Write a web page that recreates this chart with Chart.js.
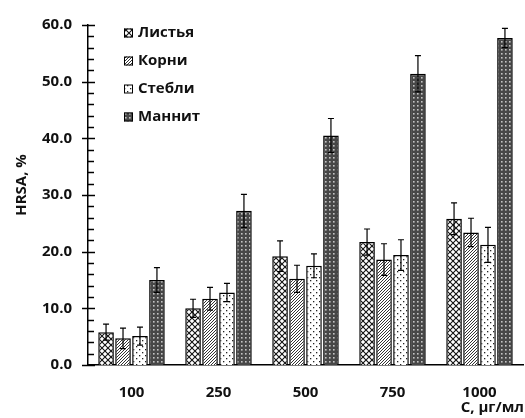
<!DOCTYPE html>
<html>
<head>
<meta charset="utf-8">
<script src="https://cdn.jsdelivr.net/npm/chart.js@4"></script>
<style>
  body { margin: 0; background: #fff; }
  #wrap { width: 525px; height: 418px; }
</style>
</head>
<body>
<div id="wrap"><canvas id="hrsacanvas" width="525" height="418"></canvas></div>
<script>
// концентрации
let concLabels = ["100", "250", "500", "750", "1000"];
let seriesNames = ["Листья", "Корни", "Стебли", "Маннит"];

// HRSA, %
let listyaVals = [5.8, 10.0, 19.2, 21.7, 25.8];
let korniVals = [4.7, 11.7, 15.2, 18.6, 23.4];
let stebliVals = [5.1, 12.8, 17.5, 19.4, 21.2];
let mannitVals = [15.0, 27.2, 40.5, 51.4, 57.7];

// погрешности
let listyaErr = [1.4, 1.6, 2.7, 2.3, 2.8];
let korniErr = [1.8, 2.0, 2.4, 2.8, 2.5];
let stebliErr = [1.6, 1.6, 2.1, 2.7, 3.1];
let mannitErr = [2.2, 2.9, 3.0, 3.2, 1.7];

let yTicks = [0, 10, 20, 30, 40, 50, 60];

function makePattern(kind) {
    let c = document.createElement('canvas');
    let s = kind === 'lattice' ? 6 : (kind === 'hatch' ? 3 : (kind === 'dots' ? 6 : 4));
    c.width = s; c.height = s;
    let g = c.getContext('2d');
    if (kind === 'lattice') {
        g.fillStyle = '#fff'; g.fillRect(0, 0, s, s);
        g.strokeStyle = '#111'; g.lineWidth = 1.1;
        g.beginPath();
        g.moveTo(0, 0); g.lineTo(s, s);
        g.moveTo(s, 0); g.lineTo(0, s);
        g.stroke();
    } else if (kind === 'hatch') {
        g.fillStyle = '#fff'; g.fillRect(0, 0, s, s);
        g.strokeStyle = '#333'; g.lineWidth = 1;
        g.beginPath();
        g.moveTo(-1, s + 1); g.lineTo(s + 1, -1);
        g.moveTo(-1, 1); g.lineTo(1, -1);
        g.moveTo(s - 1, s + 1); g.lineTo(s + 1, s - 1);
        g.stroke();
    } else if (kind === 'dots') {
        g.fillStyle = '#fff'; g.fillRect(0, 0, s, s);
        g.fillStyle = '#222';
        g.fillRect(1, 1, 1.3, 1.3);
        g.fillRect(4, 4, 1.3, 1.3);
    } else {
        g.fillStyle = '#474747'; g.fillRect(0, 0, s, s);
        g.fillStyle = '#c4c4c4';
        g.fillRect(1, 1, 1.6, 1.6);
    }
    let ctx = document.createElement('canvas').getContext('2d');
    return ctx.createPattern(c, 'repeat');
}

let fills = [makePattern('lattice'), makePattern('hatch'), makePattern('dots'), makePattern('grid')];
let allVals = [listyaVals, korniVals, stebliVals, mannitVals];
let allErr = [listyaErr, korniErr, stebliErr, mannitErr];

let fontFam = '"Open Sans", "DejaVu Sans", sans-serif';

// засечки, погрешности, легенда, подписи осей
let decorPlugin = {
    id: 'decor',
    afterDatasetsDraw(chart) {
        let ctx = chart.ctx;
        let y = chart.scales.y;
        let area = chart.chartArea;
        ctx.save();
        ctx.strokeStyle = '#000';

        // error bars
        ctx.lineWidth = 1.2;
        chart.data.datasets.forEach(function(ds, i) {
            let meta = chart.getDatasetMeta(i);
            meta.data.forEach(function(bar, j) {
                let v = ds.data[j];
                let e = allErr[i][j];
                let yt = y.getPixelForValue(v + e);
                let yb = y.getPixelForValue(v - e);
                ctx.beginPath();
                ctx.moveTo(bar.x, yt); ctx.lineTo(bar.x, yb);
                ctx.moveTo(bar.x - 3, yt); ctx.lineTo(bar.x + 3, yt);
                ctx.moveTo(bar.x - 3, yb); ctx.lineTo(bar.x + 3, yb);
                ctx.stroke();
            });
        });

        // y ticks
        ctx.lineWidth = 1.5;
        for (let v = 0; v <= 60; v += 2) {
            let py = Math.round(y.getPixelForValue(v)) + 0.5;
            ctx.beginPath();
            if (v % 10 === 0) {
                ctx.moveTo(area.left - 6, py); ctx.lineTo(area.left + 7, py);
            } else {
                ctx.moveTo(area.left, py); ctx.lineTo(area.left + 6, py);
            }
            ctx.stroke();
        }

        // legend
        ctx.font = 'bold 15px ' + fontFam;
        ctx.textBaseline = 'middle';
        ctx.textAlign = 'left';
        ctx.fillStyle = '#111';
        seriesNames.forEach(function(name, i) {
            let cy = 33 + i * 28;
            ctx.fillStyle = fills[i];
            ctx.fillRect(124, cy - 4.5, 9, 9);
            ctx.lineWidth = 1;
            ctx.strokeRect(124.5, cy - 4, 8, 8);
            ctx.fillStyle = '#111';
            ctx.fillText(name, 138, cy);
        });

        // axis titles
        ctx.font = 'bold 15px ' + fontFam;
        ctx.textAlign = 'right';
        ctx.fillText('C, μг/мл', 524, 408);
        ctx.translate(22, 185);
        ctx.rotate(-Math.PI / 2);
        ctx.textAlign = 'center';
        ctx.fillText('HRSA, %', 0, 0);
        ctx.restore();
    }
};

function createHrsaChart() {
    let datasets = seriesNames.map(function(name, i) {
        return {
            label: name,
            data: allVals[i],
            backgroundColor: fills[i],
            borderColor: '#000',
            borderWidth: 1.5,
            categoryPercentage: 0.78,
            barPercentage: 0.92
        };
    });

    let canvas = document.getElementById('hrsacanvas').getContext('2d');
    return new Chart(canvas, {
        type: 'bar',
        data: { labels: concLabels, datasets: datasets },
        options: {
            responsive: false,
            animation: false,
            layout: { padding: { left: 0, top: 22, right: 2, bottom: 0 } },
            plugins: {
                legend: { display: false },
                tooltip: { enabled: false }
            },
            scales: {
                x: {
                    grid: { display: false, drawTicks: false },
                    border: { color: '#000', width: 1.5 },
                    ticks: {
                        color: '#111',
                        font: { family: fontFam, size: 15, weight: 'bold' },
                        padding: 19,
                        maxRotation: 0
                    },
                    afterFit: function(scale) { scale.height = 53; }
                },
                y: {
                    min: 0,
                    max: 60,
                    grid: { display: false, drawTicks: false },
                    border: { color: '#000', width: 1.5 },
                    afterBuildTicks: function(scale) {
                        scale.ticks = yTicks.map(function(v) { return { value: v }; });
                    },
                    ticks: {
                        color: '#111',
                        font: { family: fontFam, size: 15, weight: 'bold' },
                        padding: 16,
                        callback: function(v) { return Number(v).toFixed(1); }
                    },
                    afterFit: function(scale) { scale.width = 88; }
                }
            }
        },
        plugins: [decorPlugin]
    });
}

createHrsaChart();
</script>
</body>
</html>
